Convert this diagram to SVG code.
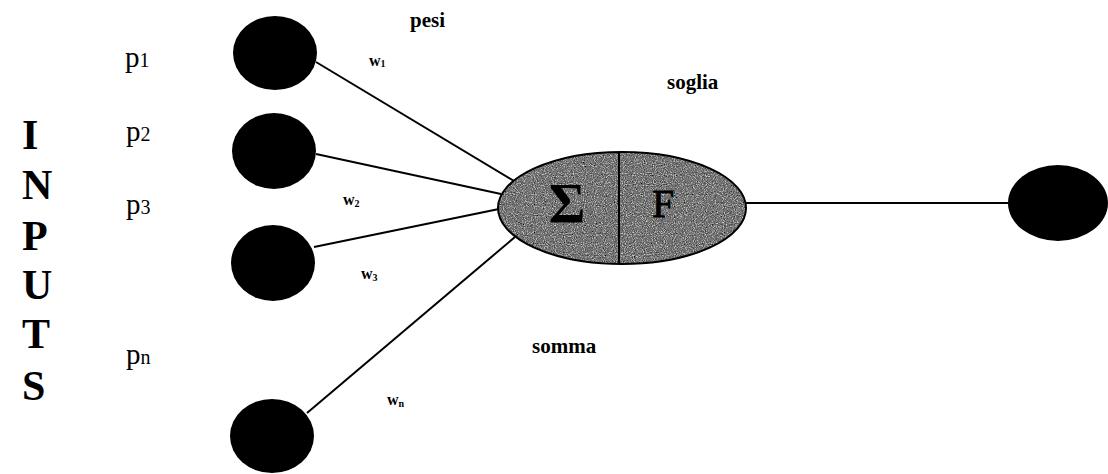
<svg xmlns="http://www.w3.org/2000/svg" width="1108" height="474" viewBox="0 0 1108 474">
  <style>
    .node { fill: #000; }
    .edge { stroke: #000; stroke-width: 2; fill: none; }
    .big { font-family: "Liberation Serif", "Times New Roman", serif; font-weight: bold; font-size: 42px; fill: #000; }
    .plabel { font-family: "Liberation Serif", "Times New Roman", serif; font-size: 29px; fill: #000; }
    .sub { font-size: 20px; }
    .wlabel { font-family: "Liberation Serif", "Times New Roman", serif; font-weight: bold; font-size: 16px; fill: #000; }
    .wsub { font-size: 10px; }
    .note { font-family: "Liberation Serif", "Times New Roman", serif; font-weight: bold; font-size: 21px; fill: #000; }
    .sym { font-family: "Liberation Serif", "Times New Roman", serif; fill: #000; }
  </style>
  <defs>
    <filter id="grain" x="0" y="0" width="100%" height="100%">
      <feTurbulence type="fractalNoise" baseFrequency="0.9" numOctaves="2" seed="3" result="n"/>
      <feColorMatrix in="n" type="matrix" values="0 0 0 0 0  0 0 0 0 0  0 0 0 0 0  0 0 0 -1.4 1.2" result="a"/>
      <feComposite in="a" in2="SourceGraphic" operator="in" result="dots"/>
      <feColorMatrix in="n" type="matrix" values="0 0 0 0 1  0 0 0 0 1  0 0 0 0 1  0 0 0 1.6 -0.9" result="w"/>
      <feComposite in="w" in2="SourceGraphic" operator="in" result="wdots"/>
      <feMerge><feMergeNode in="SourceGraphic"/><feMergeNode in="dots"/><feMergeNode in="wdots"/></feMerge>
    </filter>
  </defs>

  <rect width="1108" height="474" fill="#fff"/>

  <g id="inputs-label">
    <text class="big" x="22" y="149">I</text>
    <text class="big" x="22" y="199">N</text>
    <text class="big" x="22" y="250">P</text>
    <text class="big" x="22" y="299">U</text>
    <text class="big" x="22" y="348">T</text>
    <text class="big" x="22" y="400">S</text>
  </g>

  <g id="input-labels">
    <text class="plabel" x="125" y="67">p<tspan class="sub">1</tspan></text>
    <text class="plabel" x="126" y="141">p<tspan class="sub">2</tspan></text>
    <text class="plabel" x="126" y="214">p<tspan class="sub">3</tspan></text>
    <text class="plabel" x="126" y="364">p<tspan class="sub">n</tspan></text>
  </g>

  <g id="connectors">
    <line class="edge" x1="316" y1="62" x2="514" y2="181"/>
    <line class="edge" x1="316" y1="154" x2="501" y2="194"/>
    <line class="edge" x1="314" y1="247" x2="499" y2="209"/>
    <line class="edge" x1="307" y1="413" x2="515" y2="237"/>
    <line class="edge" x1="746" y1="203" x2="1010" y2="203"/>
  </g>

  <g id="input-1"><ellipse class="node" cx="275" cy="53" rx="42" ry="37"/></g>
  <g id="input-2"><ellipse class="node" cx="274" cy="151" rx="42" ry="38"/></g>
  <g id="input-3"><ellipse class="node" cx="273" cy="263" rx="42" ry="38"/></g>
  <g id="input-n"><ellipse class="node" cx="272" cy="436" rx="42" ry="37"/></g>

  <g id="neuron">
    <ellipse cx="622" cy="208" rx="124" ry="56" fill="#a0a0a0" filter="url(#grain)"/>
    <ellipse cx="622" cy="208" rx="124" ry="56" fill="none" stroke="#000" stroke-width="2"/>
    <line x1="619" y1="152" x2="619" y2="264" stroke="#000" stroke-width="2"/>
    <text class="sym" x="567" y="223" font-size="56" font-weight="bold" text-anchor="middle">Σ</text>
    <text class="sym" x="663" y="217" font-size="40" text-anchor="middle" stroke="#000" stroke-width="0.8">F</text>
  </g>

  <g id="output"><ellipse class="node" cx="1058" cy="203" rx="50" ry="38"/></g>

  <g id="weights">
    <text class="wlabel" x="369" y="66">w<tspan class="wsub" dy="1">1</tspan></text>
    <text class="wlabel" x="343" y="205">w<tspan class="wsub" dy="2">2</tspan></text>
    <text class="wlabel" x="361" y="279">w<tspan class="wsub" dy="2">3</tspan></text>
    <text class="wlabel" x="387" y="405">w<tspan class="wsub" dy="2">n</tspan></text>
  </g>

  <g id="notes">
    <text class="note" x="410" y="27">pesi</text>
    <text class="note" x="667" y="89">soglia</text>
    <text class="note" x="532" y="353">somma</text>
  </g>
</svg>
